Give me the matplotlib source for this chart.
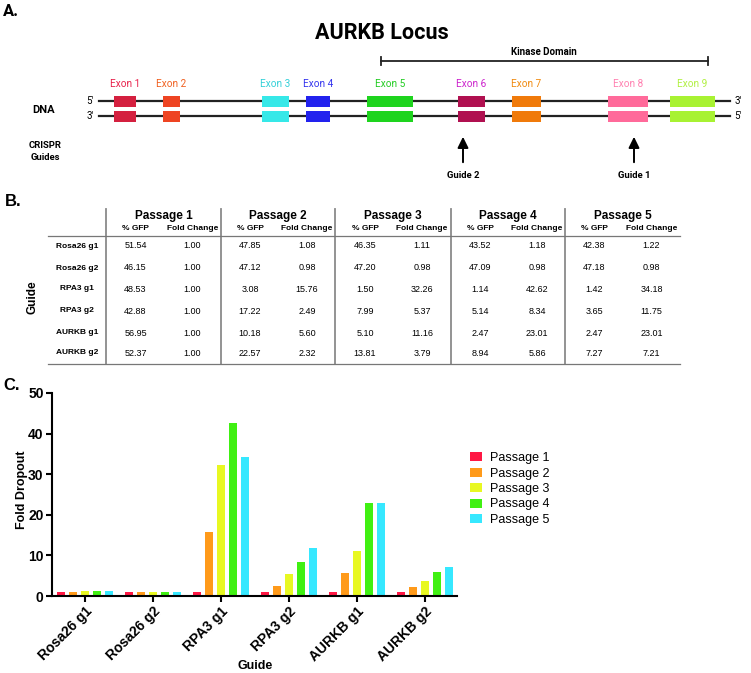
import matplotlib
matplotlib.use("Agg")
import matplotlib.pyplot as plt
import numpy as np

# ---------------- data ----------------
exon_names = ["Exon 1", "Exon 2", "Exon 3", "Exon 4", "Exon 5", "Exon 6", "Exon 7", "Exon 8", "Exon 9"]
exon_start = [114, 163, 262, 306, 367, 458, 512, 608, 670]
exon_end = [136, 180, 289, 330, 413, 485, 541, 648, 715]
exon_box_colors = ["#d4203f", "#ee4422", "#36e8e8", "#2222ee", "#1ed41e", "#b01050", "#f07a0a", "#ff6a9a", "#a8f232"]
exon_label_colors = ["#e8204a", "#f06020", "#33d0d8", "#3333ee", "#22cc22", "#cc22cc", "#f08a10", "#ff80b0", "#b0f040"]

guides = ["Rosa26 g1", "Rosa26 g2", "RPA3 g1", "RPA3 g2", "AURKB g1", "AURKB g2"]
passages = ["Passage 1", "Passage 2", "Passage 3", "Passage 4", "Passage 5"]
gfp = [
    [51.54, 46.15, 48.53, 42.88, 56.95, 52.37],
    [47.85, 47.12, 3.08, 17.22, 10.18, 22.57],
    [46.35, 47.20, 1.50, 7.99, 5.10, 13.81],
    [43.52, 47.09, 1.14, 5.14, 2.47, 8.94],
    [42.38, 47.18, 1.42, 3.65, 2.47, 7.27],
]
fold = [
    [1.00, 1.00, 1.00, 1.00, 1.00, 1.00],
    [1.08, 0.98, 15.76, 2.49, 5.60, 2.32],
    [1.11, 0.98, 32.26, 5.37, 11.16, 3.79],
    [1.18, 0.98, 42.62, 8.34, 23.01, 5.86],
    [1.22, 0.98, 34.18, 11.75, 23.01, 7.21],
]
bar_colors = ["#ff1744", "#ff9a1a", "#e8f822", "#40f012", "#36e8ff"]

# ---------------- figure ----------------
W, H = 751, 673
fig = plt.figure(figsize=(W / 100, H / 100), dpi=100)
ax0 = fig.add_axes([0, 0, 1, 1])
ax0.set_xlim(0, W)
ax0.set_ylim(H, 0)
ax0.axis("off")

RB = "Roboto"
AR = "Liberation Sans"

# ---- Panel A ----
ax0.text(3, 11, "A.", fontsize=12, fontweight="bold", family=RB, va="center", ha="left")
ax0.text(382, 33, "AURKB Locus", fontsize=15.5, fontweight="bold", family=RB, va="center", ha="center")
ax0.text(544, 52, "Kinase Domain", fontsize=7, fontweight="bold", family=RB, va="center", ha="center")
ax0.plot([381, 708], [61, 61], color="#222222", lw=1.3)
ax0.plot([381, 381], [57, 65], color="#222222", lw=1.3)
ax0.plot([708, 708], [57, 65], color="#222222", lw=1.3)

y_top, y_bot = 101, 116
ax0.plot([99, 730], [y_top, y_top], color="#222222", lw=1.6, zorder=1)
ax0.plot([99, 730], [y_bot, y_bot], color="#222222", lw=1.6, zorder=1)
ax0.text(90, y_top, "5'", fontsize=7, family=RB, va="center", ha="center")
ax0.text(738, y_top, "3'", fontsize=7, family=RB, va="center", ha="center")
ax0.text(90, y_bot, "3'", fontsize=7, family=RB, va="center", ha="center")
ax0.text(738, y_bot, "5'", fontsize=7, family=RB, va="center", ha="center")
ax0.text(44, 110, "DNA", fontsize=8, fontweight="bold", family=RB, va="center", ha="center")
ax0.text(45, 146, "CRISPR", fontsize=6.8, fontweight="bold", family=RB, va="center", ha="center")
ax0.text(45, 157, "Guides", fontsize=6.8, fontweight="bold", family=RB, va="center", ha="center")

for name, s, e, bc, lc in zip(exon_names, exon_start, exon_end, exon_box_colors, exon_label_colors):
    for yc in (y_top, y_bot):
        ax0.add_patch(plt.Rectangle((s, yc - 5.5), e - s, 11, facecolor=bc, edgecolor="none", zorder=2))
    ax0.text((s + e) / 2, 84, name, fontsize=7.2, family=RB, color=lc, va="center", ha="center")

for gx, gname in [(463, "Guide 2"), (634, "Guide 1")]:
    ax0.annotate("", xy=(gx, 134), xytext=(gx, 165),
                 arrowprops=dict(arrowstyle="-|>,head_length=0.65,head_width=0.32", color="black", lw=1.4))
    ax0.text(gx, 176, gname, fontsize=6.8, fontweight="bold", family=RB, va="center", ha="center")

# ---- Panel B (table) ----
ax0.text(5, 202, "B.", fontsize=12, fontweight="bold", family=AR, va="center", ha="left")
ax0.text(33, 297, "Guide", fontsize=8.5, fontweight="bold", family=AR, rotation=90, va="center", ha="center")
col_edges = [106, 221, 335, 451, 565, 680]
row_y = [246, 268, 289, 311, 333, 353]
for xv in col_edges[:-1]:
    ax0.plot([xv, xv], [209, 364], color="#8a8a8a", lw=1.3)
ax0.plot([48, 680], [236, 236], color="#777777", lw=0.9)
ax0.plot([48, 680], [364, 364], color="#777777", lw=0.9)
for i, p in enumerate(passages):
    cx = (col_edges[i] + col_edges[i + 1]) / 2
    ax0.text(cx, 216, p, fontsize=8.5, fontweight="bold", family=AR, va="center", ha="center")
    ax0.text(cx - 28, 229, "% GFP", fontsize=6, fontweight="bold", family=AR, va="center", ha="center")
    ax0.text(cx + 29, 229, "Fold Change", fontsize=6, fontweight="bold", family=AR, va="center", ha="center")
    for j in range(len(guides)):
        ax0.text(cx - 28, row_y[j], f"{gfp[i][j]:.2f}", fontsize=6.5, family=AR, va="center", ha="center")
        ax0.text(cx + 29, row_y[j], f"{fold[i][j]:.2f}", fontsize=6.5, family=AR, va="center", ha="center")
for j, g in enumerate(guides):
    ax0.text(77, row_y[j], g, fontsize=6, fontweight="bold", family=AR, va="center", ha="center")

# ---- Panel C (bar chart) ----
ax0.text(3, 385, "C.", fontsize=12, fontweight="bold", family=AR, va="center", ha="left")
x0p, x1p, y0p, y1p = 52, 457, 596, 393
ax = fig.add_axes([x0p / W, 1 - y0p / H, (x1p - x0p) / W, (y0p - y1p) / H])
x = np.arange(len(guides))
step = 12 / 68
bw = 8 / 68
for k, p in enumerate(passages):
    ax.bar(x + (k - 2) * step, fold[k], width=bw, color=bar_colors[k], label=p, zorder=2)
ax.set_xlim(-33 / 68, 5 + 32 / 68)
ax.set_ylim(0, 50)
ax.set_yticks([0, 10, 20, 30, 40, 50])
ax.set_xticks(x)
ax.set_xticklabels(guides, rotation=45, ha="right", rotation_mode="anchor", fontsize=10,
                   fontweight="bold", family=AR)
for lab in ax.get_yticklabels():
    lab.set_fontsize(10)
    lab.set_fontweight("bold")
    lab.set_family(AR)
for s in ["top", "right"]:
    ax.spines[s].set_visible(False)
for s in ["left", "bottom"]:
    ax.spines[s].set_linewidth(1.5)
ax.tick_params(axis="both", length=4, width=1.5, direction="out", pad=2)
ax.set_ylabel("Fold Dropout", fontsize=9, fontweight="bold", family=AR, va="center")
ax.set_xlabel("Guide", fontsize=9, fontweight="bold", family=AR, va="center")
ax.yaxis.set_label_coords((22 - x0p) / (x1p - x0p), (y0p - 490) / (y0p - y1p))
ax.xaxis.set_label_coords((255 - x0p) / (x1p - x0p), (y0p - 666) / (y0p - y1p))
ax.legend(loc="upper left", bbox_to_anchor=(470 / W, 1 - 452 / H), bbox_transform=fig.transFigure,
          frameon=False, prop={"family": AR, "size": 9}, handlelength=0.96, handleheight=0.72,
          handletextpad=0.64, labelspacing=0.28, borderpad=0, borderaxespad=0)

fig.savefig("out.png", dpi=100)
